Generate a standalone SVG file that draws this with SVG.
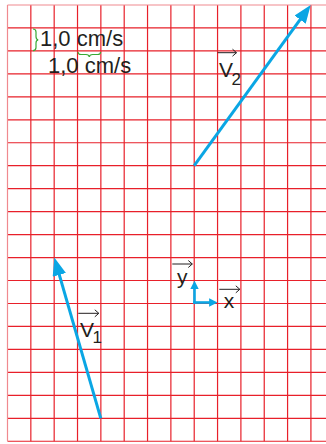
<svg xmlns="http://www.w3.org/2000/svg" width="326" height="444" viewBox="0 0 326 444">
  <style>
    .grid { stroke: #e8202a; stroke-width: 1.2; fill: none; }
    .edge { stroke: #f08a8f; stroke-width: 1.2; fill: none; }
    .vec { stroke: #0aa6e4; stroke-width: 3; fill: none; }
    .axis { stroke: #0aa6e4; stroke-width: 2.6; fill: none; }
    .brace { stroke: #3aa935; stroke-width: 1.2; fill: none; }
    .t { font-family: "Liberation Sans", Arial, sans-serif; fill: #231f20; }
    .lbl { font-size: 21px; }
    .scale { font-size: 22px; }
    .sub { font-size: 17px; }
    .over { stroke: #231f20; stroke-width: 1; fill: none; }
  </style>
  <defs>
    <marker id="head" markerUnits="strokeWidth" markerWidth="6" markerHeight="4.6" refX="2.67" refY="2.3" orient="auto">
      <path d="M0,0 L6,2.3 L0,4.6 Z" fill="#0aa6e4"/>
    </marker>
    <marker id="headS" markerUnits="strokeWidth" markerWidth="3.2" markerHeight="3.2" refX="1.3" refY="1.6" orient="auto">
      <path d="M0,0 L3.2,1.6 L0,3.2 Z" fill="#0aa6e4"/>
    </marker>
  </defs>
  <rect width="326" height="444" fill="#ffffff"/>

  <g id="grid">
    <path class="grid" d="M30.84,5V441.24M54.18,5V441.24M77.52,5V441.24M100.86,5V441.24M124.2,5V441.24M147.54,5V441.24M170.88,5V441.24M194.22,5V441.24M217.56,5V441.24M240.9,5V441.24M264.24,5V441.24M287.58,5V441.24M310.92,5V441.24"/>
    <path class="grid" d="M7.5,27.96H326M7.5,50.92H326M7.5,73.88H326M7.5,96.84H326M7.5,119.8H326M7.5,142.76H326M7.5,165.72H326M7.5,188.68H326M7.5,211.64H326M7.5,234.6H326M7.5,257.56H326M7.5,280.52H326M7.5,303.48H326M7.5,326.44H326M7.5,349.4H326M7.5,372.36H326M7.5,395.32H326M7.5,418.28H326M7.5,441.24H326"/>
    <path class="edge" d="M7.5,5V441.24M7.5,5H326"/>
  </g>

  <g id="scale">
    <path class="brace" d="M33,29 q3,0 3,3 v4.5 q0,3 2.2,3.3 q-2.2,0.3 -2.2,3.3 v4.5 q0,3 -3,3"/>
    <text class="t scale" x="40" y="46.3">1,0 cm/s</text>
    <path class="brace" d="M78,52 q0,2.5 3,2.5 h5 q3,0 3.3,2.4 q0.3,-2.4 3.3,-2.4 h5 q3,0 3,-2.5"/>
    <text class="t scale" x="48" y="73.3">1,0 cm/s</text>
  </g>

  <g id="connectors">
    <line id="v2-line" class="vec" x1="194.2" y1="165.7" x2="304.8" y2="13.1" marker-end="url(#head)"/>
    <line id="v1-line" class="vec" x1="100.8" y1="418.3" x2="57.1" y2="267.2" marker-end="url(#head)"/>
    <line id="y-axis" class="axis" x1="194.5" y1="303.7" x2="194.5" y2="285.5" marker-end="url(#headS)"/>
    <line id="x-axis" class="axis" x1="193.2" y1="302.5" x2="212.5" y2="302.5" marker-end="url(#headS)"/>
  </g>

  <g id="label-v2">
    <path class="over" d="M217.7,52.7H236.5M232.5,49.2L236.5,52.7L232.5,56.2"/>
    <text class="t lbl" x="219" y="76.7">V<tspan class="sub" dx="-1.5" dy="8.3">2</tspan></text>
  </g>

  <g id="label-v1">
    <path class="over" d="M78.3,313.3H98.8M94.8,309.8L98.8,313.3L94.8,316.8"/>
    <text class="t lbl" x="80" y="336.7">V<tspan class="sub" dx="-1.5" dy="6.6">1</tspan></text>
  </g>

  <g id="label-y">
    <path class="over" d="M172.3,264H192.3M188.3,260.5L192.3,264L188.3,267.5"/>
    <text class="t lbl" x="177" y="283.5">y</text>
  </g>

  <g id="label-x">
    <path class="over" d="M219.3,289.3H239.8M235.8,285.8L239.8,289.3L235.8,292.8"/>
    <text class="t lbl" x="223.8" y="307.5">x</text>
  </g>
</svg>
